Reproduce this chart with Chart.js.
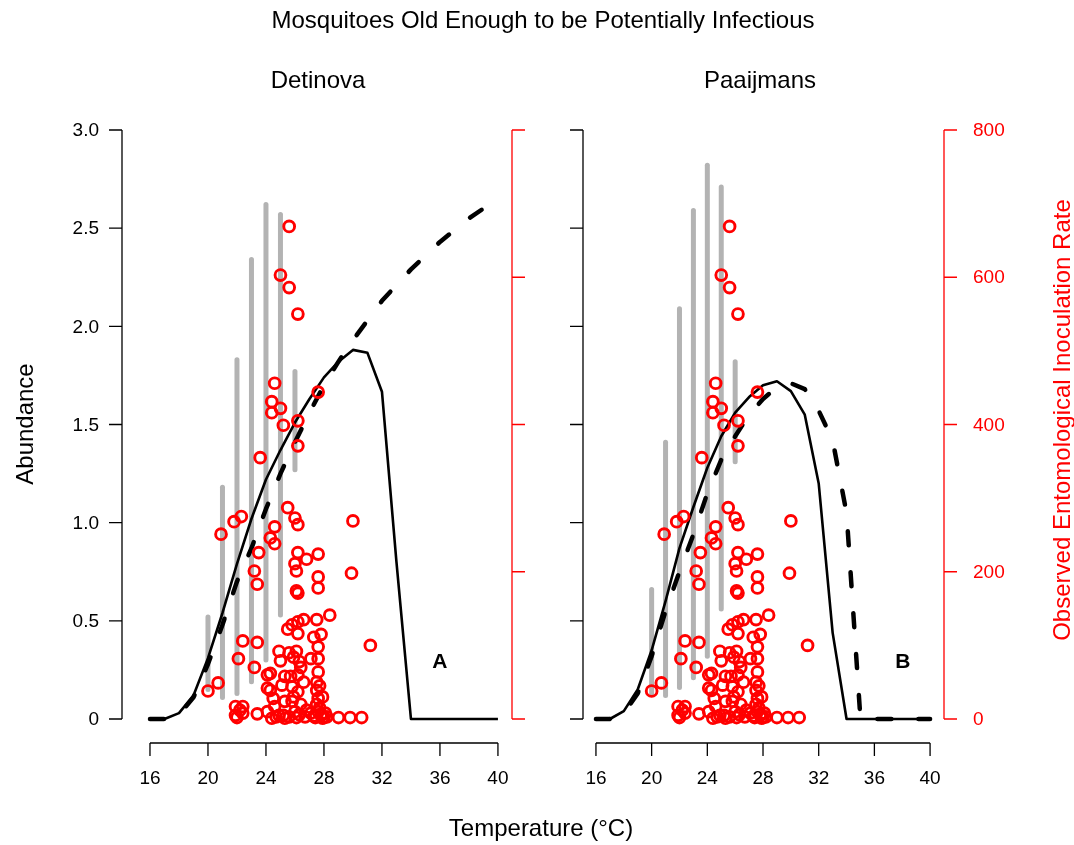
<!DOCTYPE html>
<html>
<head>
<meta charset="utf-8">
<script src="https://cdn.jsdelivr.net/npm/chart.js@4/dist/chart.umd.min.js"></script>
<style>
  html, body { margin: 0; padding: 0; background: #fff; }
  #wrap { position: relative; width: 1074px; height: 845px; }
  canvas { position: absolute; left: 0; top: 0; pointer-events: none; }
</style>
</head>
<body>
<div id="wrap">
  <canvas id="left" width="1074" height="845"></canvas>
  <canvas id="right" width="1074" height="845"></canvas>
</div>
<script>
// Model curves (abundance) at each temperature
const temps = [16, 17, 18, 19, 20, 21, 22, 23, 24, 25, 26, 27, 28, 29, 30, 31, 32, 33, 34, 35, 36, 37, 38, 39, 40];
const detinovaSolid  = [0, 0, 0.03, 0.12, 0.31, 0.54, 0.79, 1.02, 1.22, 1.37, 1.51, 1.63, 1.74, 1.82, 1.88, 1.865, 1.667, 0.8, 0, 0, 0, 0, 0, 0, 0];
const detinovaDashed = [0, 0, 0.02, 0.11, 0.28, 0.48, 0.70, 0.87, 1.07, 1.25, 1.41, 1.56, 1.70, 1.82, 1.93, 2.03, 2.13, 2.21, 2.29, 2.36, 2.43, 2.49, 2.55, 2.60, 2.65];
const paaijSolid     = [0, 0, 0.04, 0.15, 0.35, 0.60, 0.87, 1.08, 1.28, 1.44, 1.56, 1.64, 1.70, 1.72, 1.67, 1.55, 1.20, 0.44, 0, 0, 0, 0, 0, 0, 0];
const paaijDashed    = [0, 0, 0.03, 0.13, 0.32, 0.55, 0.75, 0.94, 1.15, 1.32, 1.44, 1.55, 1.63, 1.69, 1.71, 1.68, 1.57, 1.42, 1.05, 0, 0, 0, 0, 0, 0];

// Grey ranges
const barTemps = [20, 21, 22, 23, 24, 25, 26];
const detBarLow  = [0.15, 0.11, 0.13, 0.19, 0.30, 0.53, 1.27];
const detBarHigh = [0.52, 1.18, 1.83, 2.34, 2.62, 2.57, 1.77];
const paaBarLow  = [0.13, 0.12, 0.16, 0.21, 0.32, 0.56, 1.31];
const paaBarHigh = [0.66, 1.41, 2.09, 2.59, 2.82, 2.71, 1.82];

// Observed entomological inoculation rate (red circles)
const eirTemp = [25.6, 25.0, 25.6, 26.2, 24.6, 24.4, 25.0, 24.4, 27.6, 25.2, 26.2, 26.2, 23.6,
  25.5, 22.3, 21.8, 20.9, 24.6, 24.3, 24.6, 23.5, 23.2, 23.4, 26.0, 26.2, 30.0, 26.2, 26.8, 27.6,
  26.0, 26.1, 27.6, 27.6, 29.9, 26.1, 26.2, 28.4, 27.5, 26.6, 26.2, 25.8, 25.5, 26.2, 27.8, 27.3,
  27.6, 31.2, 26.1, 27.1, 27.6, 26.3, 27.6, 26.2, 25.7, 25.8, 26.2, 27.5, 27.6, 25.8, 26.0, 27.1,
  27.6, 28.1, 27.4, 29.0, 29.8, 30.6, 26.7, 25.3, 22.4, 23.4, 22.1, 23.2, 24.9, 25.0, 20.7, 20.0,
  24.1, 24.1, 21.9, 22.4, 21.9, 22.4, 23.4, 24.1, 24.6, 25.1, 25.3, 24.5, 24.9, 25.3, 24.3, 24.3,
  27.5, 27.7, 27.8, 27.9, 27.5, 27.7, 28.0, 27.3, 26.8, 26.4, 26.6, 26.4, 25.9, 25.6, 25.2, 25.6,
  26.1, 24.7, 24.4, 25.9, 26.3, 27.9, 28.2, 22.0, 22.2];
const eirValue = [669, 603, 586, 550, 456, 431, 422, 416, 444, 399, 405, 371, 355,
  287, 275, 268, 251, 261, 246, 238, 226, 201, 183, 273, 264, 269, 226, 217, 224,
  211, 201, 193, 178, 198, 174, 171, 141, 135, 135, 132, 128, 122, 116, 115, 111,
  98, 100, 92, 82, 82, 78, 64, 60, 58, 44, 37, 39, 28, 24, 10, 8,
  10, 8, 2, 2, 2, 2, 3, 1, 106, 104, 82, 70, 92, 79, 49, 38,
  60, 42, 17, 17, 5, 8, 7, 10, 17, 46, 58, 28, 5, 24, 62, 39,
  20, 15, 5, 30, 50, 45, 2, 4, 12, 20, 50, 70, 84, 90, 5, 3,
  2, 3, 1, 30, 6, 1, 3, 2, 12];

// Axis ticks
const xTicks = [16, 20, 24, 28, 32, 36, 40];
const yTicks = [0, 0.5, 1, 1.5, 2, 2.5, 3];
const yTickLabels = ["0", "0.5", "1.0", "1.5", "2.0", "2.5", "3.0"];
const eirTicks = [0, 200, 400, 600, 800];

const FONT = "'Liberation Sans', Arial, sans-serif";
const RED = "#ff0000";
const GREY = "#b3b3b3";

function pts(xs, ys) {
	return xs.map((x, i) => ({ x: x, y: ys[i] }));
}

// --------------------------- R style axes + text ---------------------------
const rAxes = {
	id: "rAxes",
	afterDraw(chart, args, o) {
		const c = chart.ctx;
		const xs = chart.scales.x, ys = chart.scales.y, es = chart.scales.y2;
		const area = chart.chartArea;
		const tick = 13;
		c.save();
		c.lineWidth = 1.3;
		c.lineCap = "butt";

		// left abundance axis
		c.strokeStyle = "#000";
		c.beginPath();
		c.moveTo(area.left, ys.getPixelForValue(0));
		c.lineTo(area.left, ys.getPixelForValue(3));
		yTicks.forEach(v => {
			const y = ys.getPixelForValue(v);
			c.moveTo(area.left, y);
			c.lineTo(area.left - tick, y);
		});
		c.stroke();
		if (o.leftLabels) {
			c.fillStyle = "#000";
			c.font = "19px " + FONT;
			c.textAlign = "right";
			c.textBaseline = "middle";
			yTicks.forEach((v, i) => c.fillText(yTickLabels[i], area.left - 10 - tick, ys.getPixelForValue(v) + 1));
		}

		// right EIR axis
		c.strokeStyle = RED;
		c.beginPath();
		c.moveTo(area.right, es.getPixelForValue(0));
		c.lineTo(area.right, es.getPixelForValue(800));
		eirTicks.forEach(v => {
			const y = es.getPixelForValue(v);
			c.moveTo(area.right, y);
			c.lineTo(area.right + tick, y);
		});
		c.stroke();
		if (o.rightLabels) {
			c.fillStyle = RED;
			c.font = "19px " + FONT;
			c.textAlign = "left";
			c.textBaseline = "middle";
			eirTicks.forEach(v => c.fillText(String(v), area.right + tick + 16, es.getPixelForValue(v) + 1));
		}

		// bottom temperature axis
		const yAx = ys.getPixelForValue(0) + 24;
		c.strokeStyle = "#000";
		c.beginPath();
		c.moveTo(xs.getPixelForValue(16), yAx);
		c.lineTo(xs.getPixelForValue(40), yAx);
		xTicks.forEach(v => {
			const x = xs.getPixelForValue(v);
			c.moveTo(x, yAx);
			c.lineTo(x, yAx + tick);
		});
		c.stroke();
		c.fillStyle = "#000";
		c.font = "19px " + FONT;
		c.textAlign = "center";
		c.textBaseline = "alphabetic";
		xTicks.forEach(v => c.fillText(String(v), xs.getPixelForValue(v), yAx + 41));

		// panel title and letter
		c.font = "24px " + FONT;
		c.fillText(o.title, o.titleX, 88);
		c.font = "bold 21px " + FONT;
		c.textBaseline = "middle";
		c.fillText(o.letter, xs.getPixelForValue(o.letterAt[0]), ys.getPixelForValue(o.letterAt[1]));

		// page level text
		if (o.pageText) {
			c.font = "24px " + FONT;
			c.textBaseline = "alphabetic";
			c.fillText("Mosquitoes Old Enough to be Potentially Infectious", 543, 28);
			c.fillText("Temperature (°C)", 541, 836);
			c.save();
			c.translate(33, 424);
			c.rotate(-Math.PI / 2);
			c.fillText("Abundance", 0, 0);
			c.restore();
		}
		if (o.rightTitle) {
			c.save();
			c.fillStyle = RED;
			c.font = "24px " + FONT;
			c.translate(1070, 420);
			c.rotate(-Math.PI / 2);
			c.textAlign = "center";
			c.textBaseline = "alphabetic";
			c.fillText("Observed Entomological Inoculation Rate", 0, 0);
			c.restore();
		}
		c.restore();
	}
};

// --------------------------- Panel builder ---------------------------
function makePanel(id, solid, dashed, barLow, barHigh, xMin, xMax, padding, axisOpts) {
	const datasets = [];
	barTemps.forEach((t, i) => {
		datasets.push({
			type: "line",
			data: [{ x: t, y: barLow[i] }, { x: t, y: barHigh[i] }],
			borderColor: GREY,
			borderWidth: 5,
			borderCapStyle: "round",
			pointRadius: 0,
			order: 4,
		});
	});
	datasets.push({
		type: "line",
		data: pts(temps, solid),
		borderColor: "#000",
		borderWidth: 2.6,
		borderJoinStyle: "round",
		pointRadius: 0,
		tension: 0,
		order: 3,
	});
	datasets.push({
		type: "line",
		data: pts(temps, dashed),
		borderColor: "#000",
		borderWidth: 4.5,
		borderDash: [14, 27],
		borderCapStyle: "round",
		borderJoinStyle: "round",
		pointRadius: 0,
		tension: 0,
		order: 2,
	});
	datasets.push({
		type: "scatter",
		data: pts(eirTemp, eirValue),
		yAxisID: "y2",
		showLine: false,
		pointStyle: "circle",
		pointRadius: 5.4,
		pointBorderWidth: 2.9,
		pointBackgroundColor: "rgba(0,0,0,0)",
		pointBorderColor: RED,
		order: 1,
	});
	datasets.forEach(d => { d.clip = false; });

	return new Chart(document.getElementById(id).getContext("2d"), {
		type: "line",
		data: { datasets: datasets },
		options: {
			responsive: false,
			animation: false,
			events: [],
			layout: { padding: padding },
			scales: {
				x: { type: "linear", display: false, min: xMin, max: xMax },
				y: { type: "linear", display: false, min: 0, max: 3 },
				y2: { type: "linear", display: false, min: 0, max: 800, position: "right" },
			},
			plugins: {
				legend: { display: false },
				tooltip: { enabled: false },
				rAxes: axisOpts,
			},
		},
		plugins: [rAxes],
	});
}

makePanel("left", detinovaSolid, detinovaDashed, detBarLow, detBarHigh, 14.07, 40.97,
	{ left: 122, right: 562, top: 130, bottom: 126 },
	{ leftLabels: true, rightLabels: false, title: "Detinova", titleX: 318, letter: "A", letterAt: [36, 0.29], pageText: true, rightTitle: false });

makePanel("right", paaijSolid, paaijDashed, paaBarLow, paaBarHigh, 15.07, 41.0,
	{ left: 583, right: 130, top: 130, bottom: 126 },
	{ leftLabels: false, rightLabels: true, title: "Paaijmans", titleX: 760, letter: "B", letterAt: [38.05, 0.29], pageText: false, rightTitle: true });
</script>
</body>
</html>
